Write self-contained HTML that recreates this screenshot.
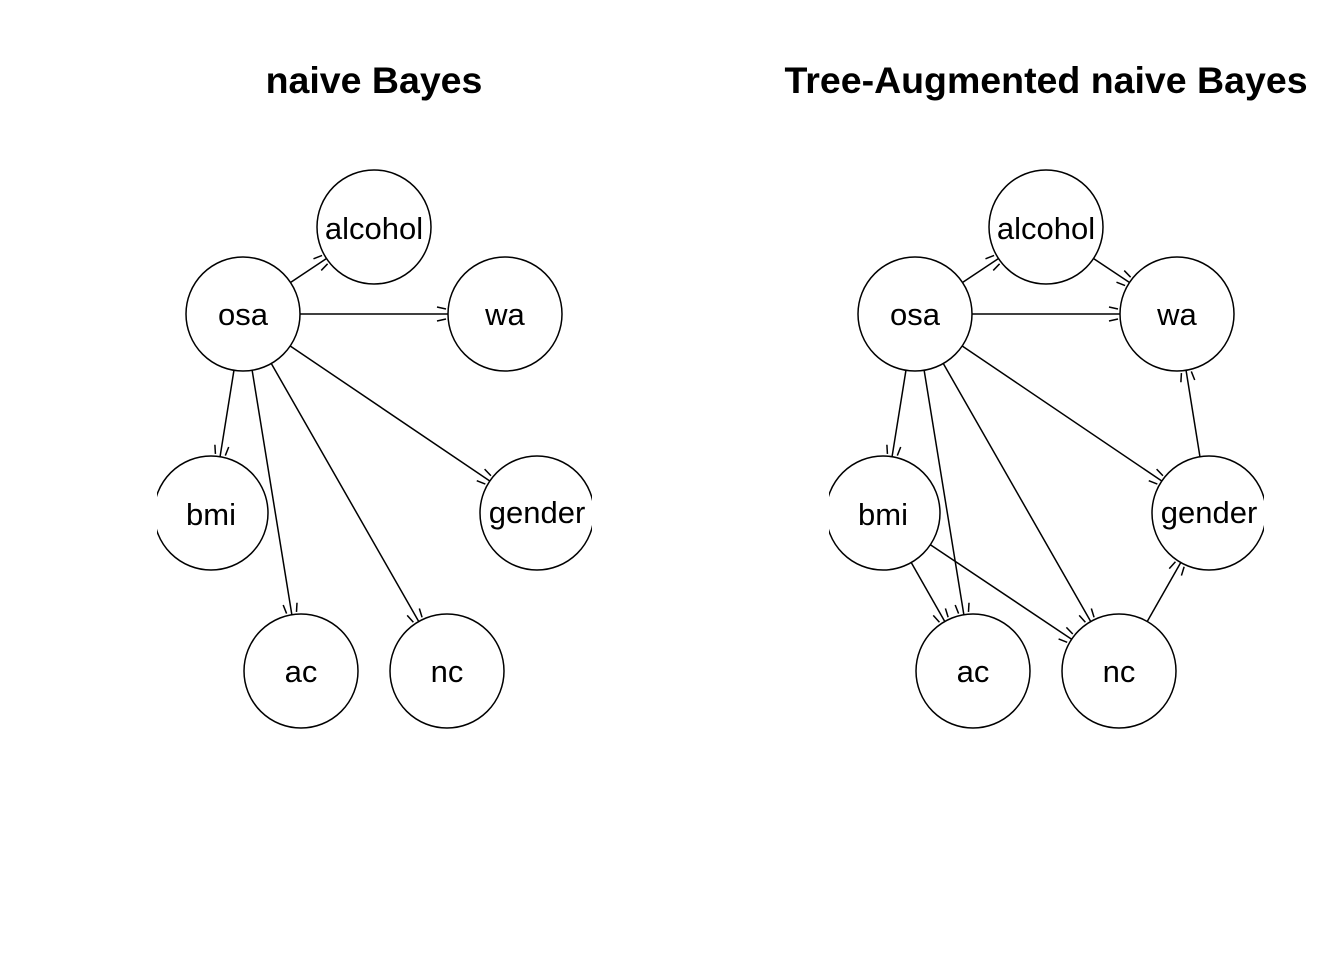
<!DOCTYPE html>
<html><head><meta charset="utf-8"><style>
html,body{margin:0;padding:0;background:#fff;}
svg{display:block;}
text{font-family:"Liberation Sans",sans-serif;}
</style></head><body>
<svg id="s" width="1344" height="960" viewBox="0 0 1344 960" xmlns="http://www.w3.org/2000/svg">
<defs>
<clipPath id="c1"><rect x="157" y="0" width="435" height="960"/></clipPath>
<clipPath id="c2"><rect x="829" y="0" width="435" height="960"/></clipPath>
</defs>
<rect width="1344" height="960" fill="#fff"/>
<text x="374" y="93" font-size="37.5" font-weight="bold" text-anchor="middle">naive Bayes</text>
<text x="1046" y="93" font-size="37.5" font-weight="bold" text-anchor="middle">Tree-Augmented naive Bayes</text>
<g id="g1" clip-path="url(#c1)" stroke="#000" stroke-width="1.5" fill="none"></g>
<g id="g2" clip-path="url(#c2)" stroke="#000" stroke-width="1.5" fill="none"></g>
<g font-size="31" text-anchor="middle" fill="#000">
<text x="374" y="239">alcohol</text><text x="243" y="325">osa</text><text x="505" y="325">wa</text>
<text x="211" y="525">bmi</text><text x="537" y="523">gender</text><text x="301" y="682">ac</text><text x="447" y="682">nc</text>
<text x="1046" y="239">alcohol</text><text x="915" y="325">osa</text><text x="1177" y="325">wa</text>
<text x="883" y="525">bmi</text><text x="1209" y="523">gender</text><text x="973" y="682">ac</text><text x="1119" y="682">nc</text>
</g>
</svg>
<script>
var R=57,NS="http://www.w3.org/2000/svg";
var P={alcohol:[374,227],osa:[243,314],wa:[505,314],bmi:[211,513],gender:[537,513],ac:[301,671],nc:[447,671]};
function el(g,t,a){var e=document.createElementNS(NS,t);for(var k in a)e.setAttribute(k,a[k]);g.appendChild(e);}
function draw(gid,dx,edges){var g=document.getElementById(gid);
for(var k in P){el(g,"circle",{cx:P[k][0]+dx,cy:P[k][1],r:R,fill:"#fff"});}
edges.forEach(function(e){var a=P[e[0]],b=P[e[1]];var x1=a[0]+dx,y1=a[1],x2=b[0]+dx,y2=b[1];
var vx=x2-x1,vy=y2-y1,L=Math.hypot(vx,vy),ux=vx/L,uy=vy/L;
var sx=x1+ux*R,sy=y1+uy*R,tx=x2-ux*R,ty=y2-uy*R;
el(g,"line",{x1:sx,y1:sy,x2:tx,y2:ty});
var px=-uy,py=ux;
[1,-1].forEach(function(s){var bx=tx-ux*2+px*s*5,by=ty-uy*2+py*s*5;
el(g,"line",{x1:bx,y1:by,x2:bx-ux*9+px*s*2,y2:by-uy*9+py*s*2});});
});}
var base=[["osa","alcohol"],["osa","wa"],["osa","bmi"],["osa","ac"],["osa","nc"],["osa","gender"]];
draw("g1",0,base);
draw("g2",672,base.concat([["alcohol","wa"],["gender","wa"],["nc","gender"],["bmi","ac"],["bmi","nc"]]));
</script>
</body></html>
